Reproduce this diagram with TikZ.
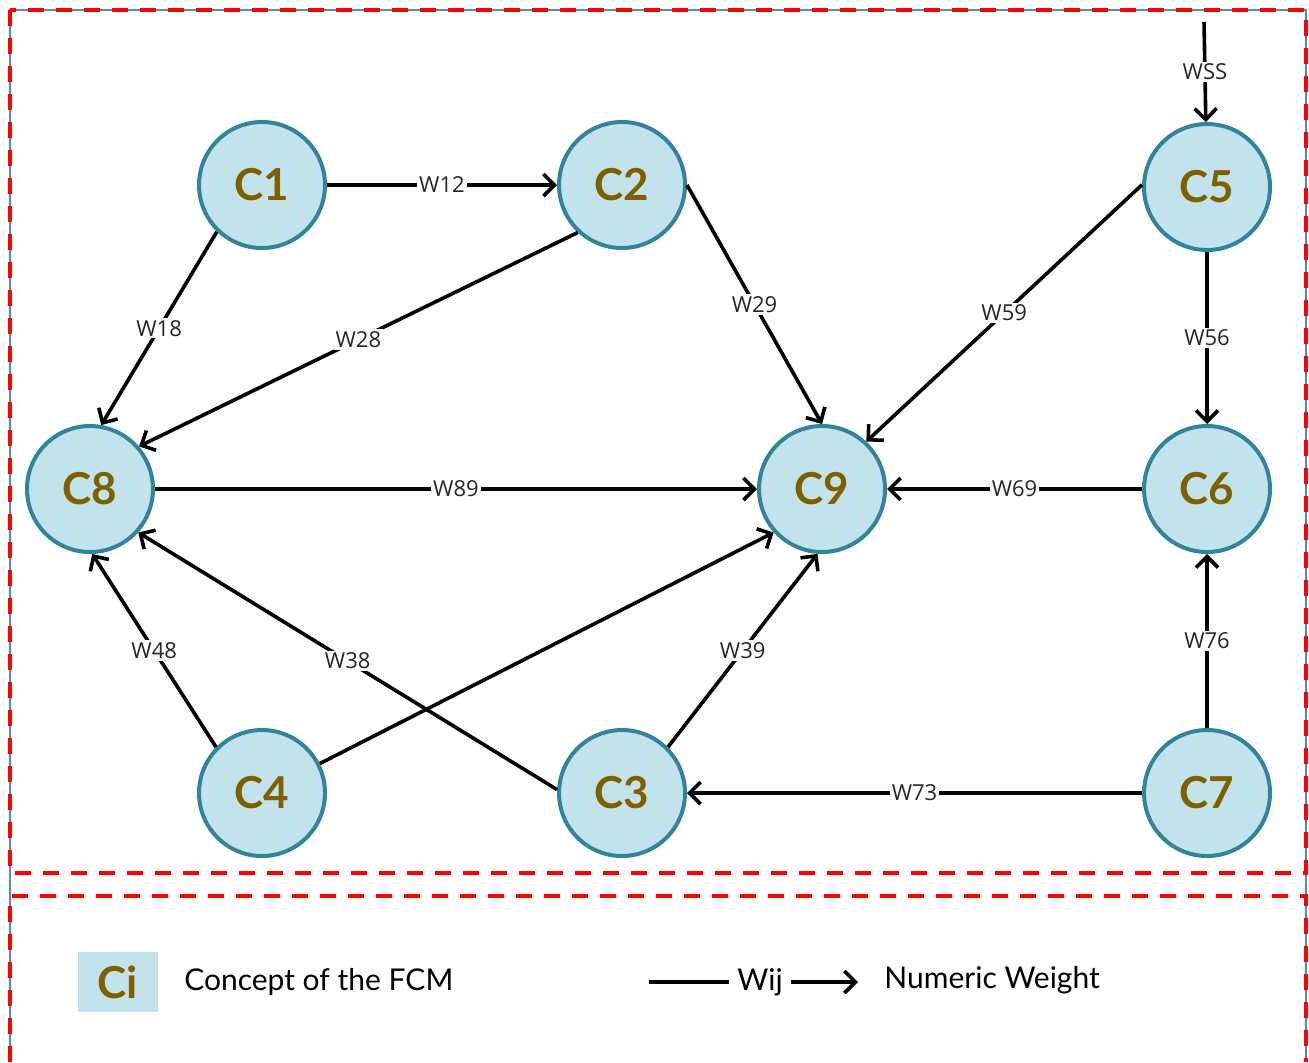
\documentclass[tikz,border=0pt]{standalone}
\usepackage{fontspec}
\setmainfont{Lato}
\newfontfamily\weightfont{Open Sans}
\usetikzlibrary{arrows.meta,positioning}
\definecolor{conceptfill}{HTML}{C2E3EB}
\definecolor{conceptdraw}{HTML}{31849B}
\definecolor{concepttext}{HTML}{7F6000}
\definecolor{frameblue}{HTML}{5B87C0}

\begin{document}
\begin{tikzpicture}[x=0.5pt,y=-0.5pt,->,>={Straight Barb[length=5.5pt,width=11pt]},
                    line width=1.8pt]
  \tikzstyle{concept}=[circle,draw=conceptdraw,fill=conceptfill,line width=2pt,
                       minimum size=63pt,inner sep=0pt,text=concepttext,
                       font=\fontsize{22}{24}\selectfont\bfseries]
  \tikzstyle{weight}=[fill=white,inner sep=1pt,text=black!85,
                      font=\weightfont\fontsize{11}{12}\selectfont]
  \tikzstyle{panel}=[-,draw=red,line width=2pt,dash pattern=on 8pt off 6pt]

  \useasboundingbox (0,0) rectangle (1309,1062);

  % frames
  \draw[-,frameblue,line width=0.6pt] (10,1062) -- (10,10) -- (1306,10) -- (1306,1062);
  \draw[panel] (10,10) rectangle (1306,873);
  \draw[panel] (10,1062) -- (10,896) -- (1306,896) -- (1306,1062);

  % concepts
  \node[concept] (C1) at (262,185) {C1};
  \node[concept] (C2) at (622,185) {C2};
  \node[concept] (C5) at (1207,187) {C5};
  \node[concept] (C8) at (90,489)  {C8};
  \node[concept] (C9) at (822,489) {C9};
  \node[concept] (C6) at (1207,489) {C6};
  \node[concept] (C4) at (262,793) {C4};
  \node[concept] (C3) at (622,793) {C3};
  \node[concept] (C7) at (1207,793) {C7};
  \coordinate (S5) at (1204,22);

  \path (C1) edge node[weight] {W12} (C2)
        (C1.226) edge node[weight] {W18} (C8.80)
        (C2.227) edge node[weight] {W28} (C8.41)
        (C2.0) edge node[weight] {W29} (C9.90)
        (S5) edge node[weight] {WSS} (C5)
        (C5.178) edge node[weight] {W59} (C9.47)
        (C5) edge node[weight] {W56} (C6)
        (C8) edge node[weight] {W89} (C9)
        (C6) edge node[weight] {W69} (C9)
        (C4.135) edge node[weight] {W48} (C8.-88)
        (C4.27) edge (C9.222)
        (C3.177) edge node[weight] {W38} (C8.-42)
        (C3.45) edge node[weight] {W39} (C9.-94)
        (C7) edge node[weight] {W76} (C6)
             edge node[weight] {W73} (C3);

  % legend
  \node[fill=conceptfill,minimum width=40pt,minimum height=30pt,inner sep=0pt,
        text=concepttext,font=\fontsize{22}{24}\selectfont\bfseries] (key) at (118,982) {Ci};
  \node[right=8pt of key,font=\fontsize{15}{18}\selectfont] (keytext) {Concept of the FCM};
  \coordinate (wstart) at (649,982);
  \node[font=\fontsize{15}{18}\selectfont] (wij) at (760,982) {Wij};
  \coordinate (wend) at (858,982);
  \draw[-] (wstart) -- (wij);
  \draw (wij) -- (wend);
  \node[anchor=west,font=\fontsize{15}{18}\selectfont] (numw) at (876,980) {Numeric Weight};
\end{tikzpicture}
\end{document}
